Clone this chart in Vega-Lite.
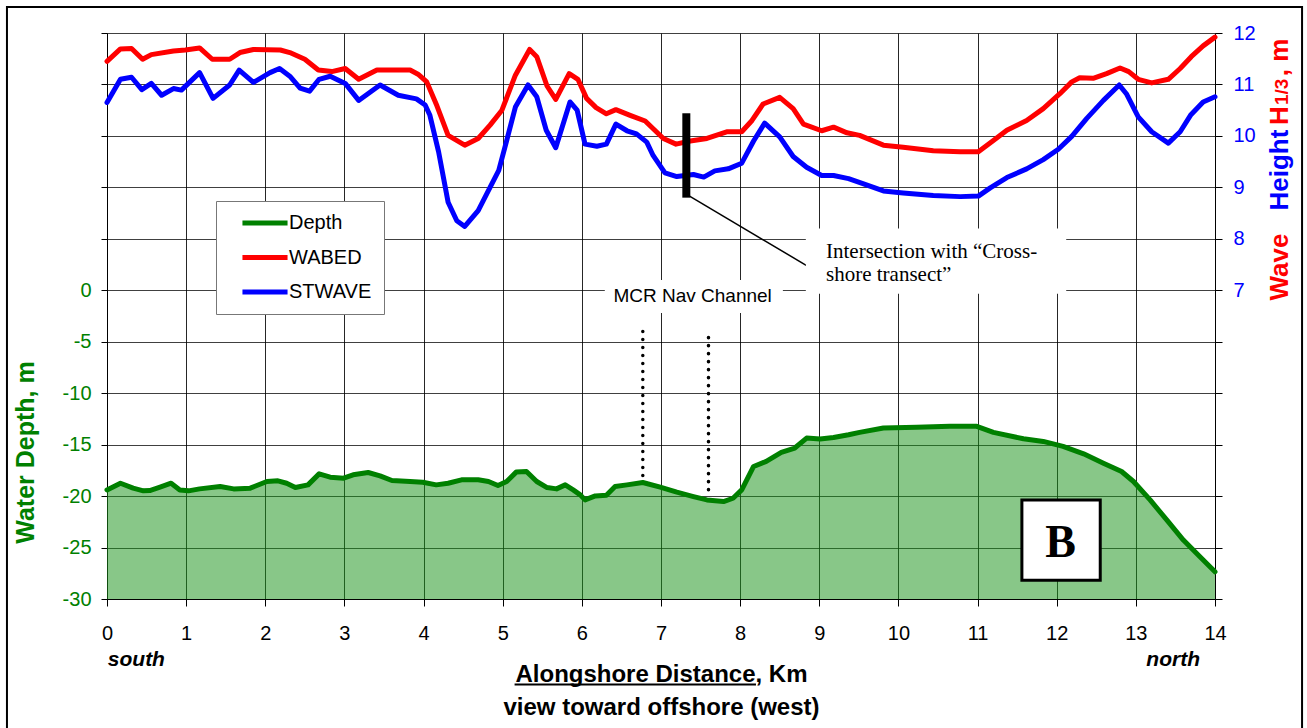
{
  "$schema": "https://vega.github.io/schema/vega-lite/v6.json",
  "width": 1108,
  "height": 566,
  "autosize": {"type": "none"},
  "padding": {"left": 107, "top": 33, "right": 92, "bottom": 129},
  "background": "white",
  "config": {
    "font": "Liberation Sans",
    "view": {"stroke": null},
    "axis": {"labelFlush": false, "labelOverlap": false}
  },
  "datasets": {
    "depth": [
      {"km": 0.0, "depth": -19.4}, {"km": 0.17, "depth": -18.75}, {"km": 0.33, "depth": -19.23}, {"km": 0.46, "depth": -19.49},
      {"km": 0.54, "depth": -19.46}, {"km": 0.67, "depth": -19.13}, {"km": 0.81, "depth": -18.75}, {"km": 0.92, "depth": -19.4},
      {"km": 1.03, "depth": -19.49}, {"km": 1.17, "depth": -19.3}, {"km": 1.43, "depth": -19.07}, {"km": 1.6, "depth": -19.3},
      {"km": 1.81, "depth": -19.23}, {"km": 2.02, "depth": -18.58}, {"km": 2.16, "depth": -18.52}, {"km": 2.27, "depth": -18.75},
      {"km": 2.38, "depth": -19.17}, {"km": 2.54, "depth": -18.91}, {"km": 2.68, "depth": -17.84}, {"km": 2.82, "depth": -18.16},
      {"km": 2.99, "depth": -18.26}, {"km": 3.11, "depth": -17.93}, {"km": 3.3, "depth": -17.71}, {"km": 3.45, "depth": -18.03},
      {"km": 3.6, "depth": -18.49}, {"km": 3.83, "depth": -18.58}, {"km": 3.99, "depth": -18.65}, {"km": 4.16, "depth": -18.91},
      {"km": 4.31, "depth": -18.75}, {"km": 4.48, "depth": -18.42}, {"km": 4.69, "depth": -18.42}, {"km": 4.82, "depth": -18.58},
      {"km": 4.94, "depth": -18.97}, {"km": 5.05, "depth": -18.58}, {"km": 5.17, "depth": -17.67}, {"km": 5.3, "depth": -17.61},
      {"km": 5.43, "depth": -18.58}, {"km": 5.56, "depth": -19.17}, {"km": 5.68, "depth": -19.3}, {"km": 5.79, "depth": -18.91},
      {"km": 5.89, "depth": -19.4}, {"km": 5.98, "depth": -19.88}, {"km": 6.04, "depth": -20.37}, {"km": 6.17, "depth": -19.98},
      {"km": 6.31, "depth": -19.91}, {"km": 6.42, "depth": -19.07}, {"km": 6.57, "depth": -18.91}, {"km": 6.77, "depth": -18.68},
      {"km": 6.99, "depth": -19.13}, {"km": 7.2, "depth": -19.62}, {"km": 7.41, "depth": -20.05}, {"km": 7.58, "depth": -20.37},
      {"km": 7.79, "depth": -20.53}, {"km": 7.91, "depth": -20.21}, {"km": 8.02, "depth": -19.4}, {"km": 8.17, "depth": -17.12},
      {"km": 8.33, "depth": -16.63}, {"km": 8.52, "depth": -15.76}, {"km": 8.69, "depth": -15.33}, {"km": 8.84, "depth": -14.36},
      {"km": 9.01, "depth": -14.46}, {"km": 9.18, "depth": -14.3}, {"km": 9.37, "depth": -14.04}, {"km": 9.51, "depth": -13.81},
      {"km": 9.81, "depth": -13.38}, {"km": 10.23, "depth": -13.32}, {"km": 10.65, "depth": -13.22}, {"km": 10.99, "depth": -13.22},
      {"km": 11.2, "depth": -13.81}, {"km": 11.58, "depth": -14.43}, {"km": 11.83, "depth": -14.69}, {"km": 12.08, "depth": -15.17},
      {"km": 12.34, "depth": -15.89}, {"km": 12.59, "depth": -16.8}, {"km": 12.82, "depth": -17.61}, {"km": 12.97, "depth": -18.58},
      {"km": 13.18, "depth": -20.37}, {"km": 13.39, "depth": -22.32}, {"km": 13.6, "depth": -24.27}, {"km": 13.81, "depth": -25.9},
      {"km": 14.0, "depth": -27.36}
    ],
    "waves": [
      {"km": 0.0, "series": "WABED", "h": 11.45}, {"km": 0.17, "series": "WABED", "h": 11.69}, {"km": 0.31, "series": "WABED", "h": 11.7},
      {"km": 0.45, "series": "WABED", "h": 11.49}, {"km": 0.56, "series": "WABED", "h": 11.58}, {"km": 0.84, "series": "WABED", "h": 11.65},
      {"km": 0.99, "series": "WABED", "h": 11.67}, {"km": 1.17, "series": "WABED", "h": 11.71}, {"km": 1.33, "series": "WABED", "h": 11.49},
      {"km": 1.55, "series": "WABED", "h": 11.49}, {"km": 1.68, "series": "WABED", "h": 11.62}, {"km": 1.85, "series": "WABED", "h": 11.68},
      {"km": 2.19, "series": "WABED", "h": 11.67}, {"km": 2.31, "series": "WABED", "h": 11.62}, {"km": 2.5, "series": "WABED", "h": 11.49},
      {"km": 2.67, "series": "WABED", "h": 11.28}, {"km": 2.84, "series": "WABED", "h": 11.25}, {"km": 3.01, "series": "WABED", "h": 11.31},
      {"km": 3.18, "series": "WABED", "h": 11.1}, {"km": 3.41, "series": "WABED", "h": 11.28}, {"km": 3.83, "series": "WABED", "h": 11.28},
      {"km": 3.93, "series": "WABED", "h": 11.2}, {"km": 4.04, "series": "WABED", "h": 11.05}, {"km": 4.17, "series": "WABED", "h": 10.58},
      {"km": 4.31, "series": "WABED", "h": 10.01}, {"km": 4.52, "series": "WABED", "h": 9.82}, {"km": 4.69, "series": "WABED", "h": 9.95},
      {"km": 4.84, "series": "WABED", "h": 10.21}, {"km": 4.99, "series": "WABED", "h": 10.5}, {"km": 5.16, "series": "WABED", "h": 11.18},
      {"km": 5.34, "series": "WABED", "h": 11.68}, {"km": 5.43, "series": "WABED", "h": 11.54}, {"km": 5.56, "series": "WABED", "h": 10.97},
      {"km": 5.67, "series": "WABED", "h": 10.71}, {"km": 5.84, "series": "WABED", "h": 11.21}, {"km": 5.95, "series": "WABED", "h": 11.1},
      {"km": 6.06, "series": "WABED", "h": 10.73}, {"km": 6.18, "series": "WABED", "h": 10.55}, {"km": 6.31, "series": "WABED", "h": 10.43},
      {"km": 6.43, "series": "WABED", "h": 10.51}, {"km": 6.61, "series": "WABED", "h": 10.4}, {"km": 6.8, "series": "WABED", "h": 10.29},
      {"km": 7.03, "series": "WABED", "h": 9.95}, {"km": 7.19, "series": "WABED", "h": 9.84}, {"km": 7.37, "series": "WABED", "h": 9.9},
      {"km": 7.58, "series": "WABED", "h": 9.95}, {"km": 7.83, "series": "WABED", "h": 10.08}, {"km": 8.02, "series": "WABED", "h": 10.08},
      {"km": 8.15, "series": "WABED", "h": 10.3}, {"km": 8.29, "series": "WABED", "h": 10.62}, {"km": 8.5, "series": "WABED", "h": 10.75},
      {"km": 8.67, "series": "WABED", "h": 10.53}, {"km": 8.8, "series": "WABED", "h": 10.23}, {"km": 9.03, "series": "WABED", "h": 10.1},
      {"km": 9.18, "series": "WABED", "h": 10.17}, {"km": 9.35, "series": "WABED", "h": 10.06}, {"km": 9.51, "series": "WABED", "h": 10.01},
      {"km": 9.81, "series": "WABED", "h": 9.82}, {"km": 10.06, "series": "WABED", "h": 9.78}, {"km": 10.44, "series": "WABED", "h": 9.71},
      {"km": 10.78, "series": "WABED", "h": 9.69}, {"km": 11.01, "series": "WABED", "h": 9.69}, {"km": 11.2, "series": "WABED", "h": 9.91},
      {"km": 11.37, "series": "WABED", "h": 10.11}, {"km": 11.62, "series": "WABED", "h": 10.3}, {"km": 11.83, "series": "WABED", "h": 10.53},
      {"km": 12.04, "series": "WABED", "h": 10.82}, {"km": 12.19, "series": "WABED", "h": 11.05}, {"km": 12.29, "series": "WABED", "h": 11.13},
      {"km": 12.46, "series": "WABED", "h": 11.12}, {"km": 12.63, "series": "WABED", "h": 11.21}, {"km": 12.8, "series": "WABED", "h": 11.32},
      {"km": 12.91, "series": "WABED", "h": 11.25}, {"km": 13.03, "series": "WABED", "h": 11.1}, {"km": 13.2, "series": "WABED", "h": 11.03},
      {"km": 13.41, "series": "WABED", "h": 11.1}, {"km": 13.56, "series": "WABED", "h": 11.31}, {"km": 13.7, "series": "WABED", "h": 11.54},
      {"km": 13.85, "series": "WABED", "h": 11.75}, {"km": 14.0, "series": "WABED", "h": 11.92},
      {"km": 0.0, "series": "STWAVE", "h": 10.65}, {"km": 0.17, "series": "STWAVE", "h": 11.1}, {"km": 0.31, "series": "STWAVE", "h": 11.14},
      {"km": 0.44, "series": "STWAVE", "h": 10.9}, {"km": 0.56, "series": "STWAVE", "h": 11.02}, {"km": 0.69, "series": "STWAVE", "h": 10.79},
      {"km": 0.84, "series": "STWAVE", "h": 10.92}, {"km": 0.94, "series": "STWAVE", "h": 10.89}, {"km": 1.17, "series": "STWAVE", "h": 11.23},
      {"km": 1.34, "series": "STWAVE", "h": 10.73}, {"km": 1.55, "series": "STWAVE", "h": 10.99}, {"km": 1.67, "series": "STWAVE", "h": 11.28},
      {"km": 1.85, "series": "STWAVE", "h": 11.04}, {"km": 2.06, "series": "STWAVE", "h": 11.23}, {"km": 2.18, "series": "STWAVE", "h": 11.31},
      {"km": 2.31, "series": "STWAVE", "h": 11.16}, {"km": 2.44, "series": "STWAVE", "h": 10.93}, {"km": 2.56, "series": "STWAVE", "h": 10.87},
      {"km": 2.68, "series": "STWAVE", "h": 11.1}, {"km": 2.82, "series": "STWAVE", "h": 11.16}, {"km": 3.01, "series": "STWAVE", "h": 11.02},
      {"km": 3.18, "series": "STWAVE", "h": 10.69}, {"km": 3.45, "series": "STWAVE", "h": 10.99}, {"km": 3.68, "series": "STWAVE", "h": 10.79},
      {"km": 3.91, "series": "STWAVE", "h": 10.72}, {"km": 4.02, "series": "STWAVE", "h": 10.6}, {"km": 4.08, "series": "STWAVE", "h": 10.4},
      {"km": 4.19, "series": "STWAVE", "h": 9.69}, {"km": 4.31, "series": "STWAVE", "h": 8.71}, {"km": 4.42, "series": "STWAVE", "h": 8.35},
      {"km": 4.52, "series": "STWAVE", "h": 8.24}, {"km": 4.69, "series": "STWAVE", "h": 8.55}, {"km": 4.84, "series": "STWAVE", "h": 9.0},
      {"km": 4.95, "series": "STWAVE", "h": 9.33}, {"km": 5.05, "series": "STWAVE", "h": 9.91}, {"km": 5.16, "series": "STWAVE", "h": 10.56},
      {"km": 5.32, "series": "STWAVE", "h": 10.99}, {"km": 5.43, "series": "STWAVE", "h": 10.76}, {"km": 5.55, "series": "STWAVE", "h": 10.11},
      {"km": 5.67, "series": "STWAVE", "h": 9.77}, {"km": 5.85, "series": "STWAVE", "h": 10.66}, {"km": 5.94, "series": "STWAVE", "h": 10.5},
      {"km": 6.04, "series": "STWAVE", "h": 9.84}, {"km": 6.19, "series": "STWAVE", "h": 9.8}, {"km": 6.31, "series": "STWAVE", "h": 9.84},
      {"km": 6.43, "series": "STWAVE", "h": 10.23}, {"km": 6.57, "series": "STWAVE", "h": 10.1}, {"km": 6.69, "series": "STWAVE", "h": 10.04},
      {"km": 6.82, "series": "STWAVE", "h": 9.88}, {"km": 6.9, "series": "STWAVE", "h": 9.62}, {"km": 7.05, "series": "STWAVE", "h": 9.28},
      {"km": 7.2, "series": "STWAVE", "h": 9.21}, {"km": 7.41, "series": "STWAVE", "h": 9.25}, {"km": 7.54, "series": "STWAVE", "h": 9.2},
      {"km": 7.68, "series": "STWAVE", "h": 9.32}, {"km": 7.85, "series": "STWAVE", "h": 9.36}, {"km": 8.02, "series": "STWAVE", "h": 9.47},
      {"km": 8.17, "series": "STWAVE", "h": 9.9}, {"km": 8.31, "series": "STWAVE", "h": 10.25}, {"km": 8.5, "series": "STWAVE", "h": 9.98},
      {"km": 8.67, "series": "STWAVE", "h": 9.6}, {"km": 8.84, "series": "STWAVE", "h": 9.39}, {"km": 9.03, "series": "STWAVE", "h": 9.23},
      {"km": 9.18, "series": "STWAVE", "h": 9.23}, {"km": 9.37, "series": "STWAVE", "h": 9.17}, {"km": 9.56, "series": "STWAVE", "h": 9.07},
      {"km": 9.81, "series": "STWAVE", "h": 8.93}, {"km": 10.06, "series": "STWAVE", "h": 8.89}, {"km": 10.44, "series": "STWAVE", "h": 8.84},
      {"km": 10.78, "series": "STWAVE", "h": 8.82}, {"km": 11.01, "series": "STWAVE", "h": 8.83}, {"km": 11.16, "series": "STWAVE", "h": 8.99},
      {"km": 11.37, "series": "STWAVE", "h": 9.19}, {"km": 11.62, "series": "STWAVE", "h": 9.36}, {"km": 11.83, "series": "STWAVE", "h": 9.54},
      {"km": 12.02, "series": "STWAVE", "h": 9.74}, {"km": 12.19, "series": "STWAVE", "h": 9.99}, {"km": 12.38, "series": "STWAVE", "h": 10.34},
      {"km": 12.59, "series": "STWAVE", "h": 10.69}, {"km": 12.79, "series": "STWAVE", "h": 10.99}, {"km": 12.88, "series": "STWAVE", "h": 10.82},
      {"km": 13.03, "series": "STWAVE", "h": 10.37}, {"km": 13.2, "series": "STWAVE", "h": 10.08}, {"km": 13.41, "series": "STWAVE", "h": 9.86},
      {"km": 13.56, "series": "STWAVE", "h": 10.08}, {"km": 13.69, "series": "STWAVE", "h": 10.4}, {"km": 13.85, "series": "STWAVE", "h": 10.66},
      {"km": 14.0, "series": "STWAVE", "h": 10.76}
    ]
  },
  "layer": [
    {
      "layer": [
        {
          "data": {"name": "depth"},
          "mark": {"type": "area", "fill": "#1a941a", "fillOpacity": 0.52},
          "encoding": {
            "x": {
              "field": "km", "type": "quantitative",
              "scale": {"domain": [0, 14], "nice": false, "zero": false},
              "axis": {
                "values": [0, 1, 2, 3, 4, 5, 6, 7, 8, 9, 10, 11, 12, 13, 14],
                "labelExpr": "'' + datum.value",
                "labelFontSize": 20, "labelColor": "black", "labelPadding": 17,
                "tickSize": 7, "tickColor": "black", "domainColor": "black",
                "grid": true, "gridColor": "#000", "gridOpacity": 0.85,
                "title": ["Alongshore Distance, Km", "view toward offshore (west)"],
                "titleFontSize": 24, "titleFontWeight": "bold", "titleColor": "black",
                "titleLineHeight": 33, "titleBaseline": "alphabetic", "titleAlign": "center",
                "titleX": 554, "titleY": 82
              }
            },
            "y": {
              "field": "depth", "type": "quantitative",
              "scale": {"domain": [-30, 25], "nice": false, "zero": false},
              "axis": {
                "values": [-30, -25, -20, -15, -10, -5, 0, 5, 10, 15, 20, 25],
                "labelExpr": "datum.value <= 0 ? '' + datum.value : ''",
                "labelColor": "#008000", "labelFontSize": 20, "labelPadding": 10,
                "tickSize": 6, "tickColor": "black", "domainColor": "black",
                "grid": true, "gridColor": "#000", "gridOpacity": 0.75,
                "title": "Water Depth, m", "titleColor": "#008000", "titleFontSize": 25,
                "titleFontWeight": "bold", "titleAngle": 270, "titleAlign": "center",
                "titleBaseline": "alphabetic", "titleX": -74, "titleY": 419
              }
            },
            "y2": {"datum": -30}
          }
        },
        {
          "data": {"name": "depth"},
          "mark": {"type": "line", "strokeWidth": 5, "strokeJoin": "round", "strokeCap": "round"},
          "encoding": {
            "x": {"field": "km", "type": "quantitative"},
            "y": {"field": "depth", "type": "quantitative"},
            "color": {
              "datum": "Depth", "type": "nominal", "title": null,
              "scale": {"domain": ["Depth", "WABED", "STWAVE"], "range": ["#008000", "#ff0000", "#0000ff"]},
              "legend": {
                "orient": "none", "legendX": 109, "legendY": 168, "title": null, "direction": "vertical",
                "symbolType": "M-4.1,0H4.1", "symbolStrokeWidth": 5, "symbolSize": 121,
                "labelFontSize": 20, "labelColor": "black", "labelFont": "Liberation Sans",
                "padding": 12, "rowPadding": 14.5, "labelOffset": 14, "symbolOffset": 27,
                "strokeColor": "#777777", "fillColor": "white", "labelLimit": 200
              }
            }
          }
        },
        {
          "data": {"values": [{}]},
          "mark": {"type": "rule", "color": "black", "strokeWidth": 3.5, "strokeDash": [0.1, 7.9], "strokeCap": "round"},
          "encoding": {"x": {"datum": 6.77}, "y": {"datum": -4.0}, "y2": {"datum": -18.7}}
        },
        {
          "data": {"values": [{}]},
          "mark": {"type": "rule", "color": "black", "strokeWidth": 3.5, "strokeDash": [0.1, 7.9], "strokeCap": "round"},
          "encoding": {"x": {"datum": 7.6}, "y": {"datum": -4.6}, "y2": {"datum": -20.05}}
        },
        {
          "data": {"values": [{}]},
          "mark": {"type": "rect", "fill": "white", "stroke": "black", "strokeWidth": 3},
          "encoding": {"x": {"datum": 11.56}, "x2": {"datum": 12.55}, "y": {"datum": -20.37}, "y2": {"datum": -28.17}}
        },
        {
          "data": {"values": [{}]},
          "mark": {"type": "text", "text": "B", "font": "Liberation Serif", "fontWeight": "bold", "fontSize": 46, "color": "black", "align": "center", "baseline": "alphabetic"},
          "encoding": {"x": {"datum": 12.05}, "y": {"datum": -25.9}}
        },
        {
          "data": {"values": [{}]},
          "mark": {"type": "text", "text": "south", "fontWeight": "bold", "fontStyle": "italic", "fontSize": 21, "color": "black", "align": "left", "baseline": "alphabetic", "clip": false},
          "encoding": {"x": {"datum": 0.01}, "y": {"datum": -36.5}}
        },
        {
          "data": {"values": [{}]},
          "mark": {"type": "text", "text": "north", "fontWeight": "bold", "fontStyle": "italic", "fontSize": 21, "color": "black", "align": "right", "baseline": "alphabetic", "clip": false},
          "encoding": {"x": {"datum": 13.81}, "y": {"datum": -36.5}}
        },
        {
          "data": {"values": [{}]},
          "mark": {"type": "rule", "color": "black", "strokeWidth": 2, "clip": false},
          "encoding": {"x": {"datum": 5.15}, "x2": {"datum": 8.2}, "y": {"datum": -38.3}}
        },
        {
          "data": {"values": [{}]},
          "mark": {"type": "rect", "fillOpacity": 0, "stroke": "black", "strokeWidth": 2, "clip": false},
          "encoding": {"x": {"datum": -1.264}, "x2": {"datum": 15.1}, "y": {"datum": 27.53}, "y2": {"datum": -45}}
        }
      ]
    },
    {
      "layer": [
        {
          "data": {"name": "waves"},
          "mark": {"type": "line", "strokeWidth": 5, "strokeJoin": "round", "strokeCap": "round"},
          "encoding": {
            "x": {"field": "km", "type": "quantitative"},
            "y": {
              "field": "h", "type": "quantitative",
              "scale": {"domain": [1, 12], "nice": false, "zero": false},
              "axis": {
                "orient": "right",
                "values": [1, 2, 3, 4, 5, 6, 7, 8, 9, 10, 11, 12],
                "labelExpr": "datum.value >= 7 ? datum.label : ''",
                "labelColor": "#0000ff", "labelFontSize": 20, "labelPadding": 11,
                "tickSize": 7, "tickColor": "black", "domainColor": "black",
                "grid": false, "title": null
              }
            },
            "color": {"field": "series", "type": "nominal", "title": null}
          }
        },
        {
          "data": {"values": [{}]},
          "mark": {"type": "rule", "color": "black", "strokeWidth": 8},
          "encoding": {"x": {"datum": 7.32}, "y": {"datum": 10.44}, "y2": {"datum": 8.8}}
        },
        {
          "data": {"values": [{}]},
          "mark": {"type": "rule", "color": "black", "strokeWidth": 1.5},
          "encoding": {"x": {"datum": 7.35}, "y": {"datum": 8.84}, "x2": {"datum": 8.84}, "y2": {"datum": 7.48}}
        },
        {
          "data": {"values": [{}]},
          "mark": {"type": "rect", "fill": "white"},
          "encoding": {"x": {"datum": 8.83}, "x2": {"datum": 12.12}, "y": {"datum": 8.2}, "y2": {"datum": 6.93}}
        },
        {
          "data": {"values": [{}]},
          "mark": {"type": "text", "text": ["Intersection with “Cross-", "shore transect”"], "font": "Liberation Serif", "fontSize": 21, "lineHeight": 23.5, "color": "black", "align": "left", "baseline": "alphabetic"},
          "encoding": {"x": {"datum": 9.085}, "y": {"datum": 7.63}}
        },
        {
          "data": {"values": [{}]},
          "mark": {"type": "rect", "fill": "white"},
          "encoding": {"x": {"datum": 6.29}, "x2": {"datum": 8.54}, "y": {"datum": 7.2}, "y2": {"datum": 6.56}}
        },
        {
          "data": {"values": [{}]},
          "mark": {"type": "text", "text": "MCR Nav Channel", "fontSize": 19, "color": "black", "align": "center", "baseline": "alphabetic"},
          "encoding": {"x": {"datum": 7.4}, "y": {"datum": 6.78}}
        },
        {
          "data": {"values": [{}]},
          "mark": {"type": "text", "text": "Wave", "angle": 270, "align": "left", "baseline": "alphabetic", "fontWeight": "bold", "fontSize": 26, "color": "#ff0000", "clip": false},
          "encoding": {"x": {"datum": 14.92}, "y": {"datum": 6.8}}
        },
        {
          "data": {"values": [{}]},
          "mark": {"type": "text", "text": "Height", "angle": 270, "align": "left", "baseline": "alphabetic", "fontWeight": "bold", "fontSize": 26, "color": "#0000ff", "clip": false},
          "encoding": {"x": {"datum": 14.92}, "y": {"datum": 8.55}}
        },
        {
          "data": {"values": [{}]},
          "mark": {"type": "text", "text": "H", "angle": 270, "align": "left", "baseline": "alphabetic", "fontWeight": "bold", "fontSize": 26, "color": "#ff0000", "clip": false},
          "encoding": {"x": {"datum": 14.92}, "y": {"datum": 10.21}}
        },
        {
          "data": {"values": [{}]},
          "mark": {"type": "text", "text": "1/3", "angle": 270, "align": "left", "baseline": "alphabetic", "fontWeight": "bold", "fontSize": 19, "color": "#ff0000", "clip": false},
          "encoding": {"x": {"datum": 14.92}, "y": {"datum": 10.6}}
        },
        {
          "data": {"values": [{}]},
          "mark": {"type": "text", "text": ", m", "angle": 270, "align": "left", "baseline": "alphabetic", "fontWeight": "bold", "fontSize": 26, "color": "#ff0000", "clip": false},
          "encoding": {"x": {"datum": 14.92}, "y": {"datum": 11.16}}
        }
      ]
    }
  ],
  "resolve": {"scale": {"y": "independent"}}
}
